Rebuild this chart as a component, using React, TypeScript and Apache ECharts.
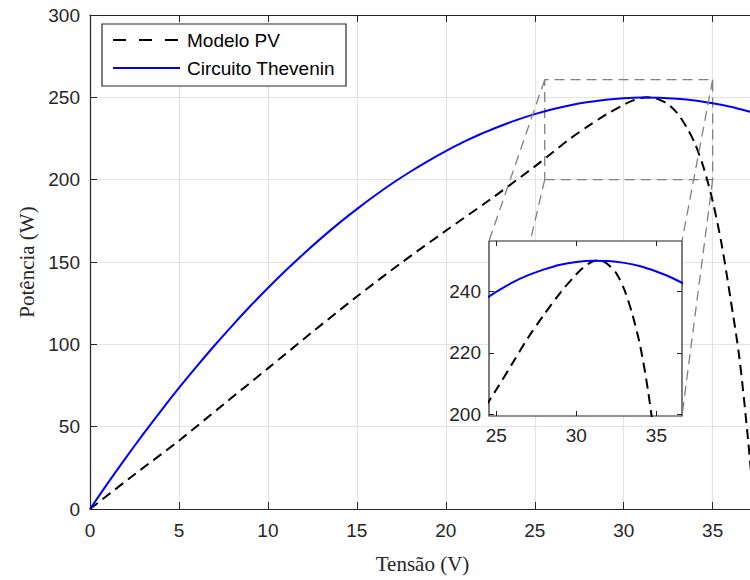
import React, { useEffect, useRef } from "react";
import * as echarts from "echarts";

// ---- data ----
const thevV = [0, 1, 2, 3, 4, 5, 6, 7, 8, 9, 10, 11, 12, 13, 14, 15, 16, 17, 18, 19, 20, 21, 22, 23, 24, 25, 26, 27, 28, 29, 30, 31, 32, 33, 34, 35, 36, 37, 37.4];
const thevP = [0, 15.7, 30.9, 45.6, 59.8, 73.5, 86.6, 99.3, 111.4, 123.1, 134.2, 144.8, 154.9, 164.5, 173.6, 182.1, 190.2, 197.8, 204.8, 211.3, 217.3, 222.9, 227.9, 232.3, 236.3, 239.8, 242.8, 245.2, 247.1, 248.6, 249.5, 249.9, 249.8, 249.2, 248.1, 246.4, 244.3, 241.6, 240.4];

const pvV = [0, 2.5, 5, 7.5, 10, 12.5, 15, 17.5, 20, 22.5, 25, 26, 27, 28, 29, 30, 30.5, 31, 31.3, 31.7, 32, 32.5, 33, 33.5, 34, 34.5, 35, 35.5, 36, 36.5, 37, 37.3];
const pvP = [0, 21, 41.5, 63.5, 85.4, 107.5, 129, 149.5, 169, 188, 208, 216.5, 225, 232.5, 239.5, 245.5, 248, 249.6, 250, 249.6, 248.6, 245.8, 240.5, 232.5, 222, 207, 187, 161, 128, 92, 41, 4];

const seriesNames = ["Modelo PV", "Circuito Thevenin"];
const xName = "Tensão (V)";
const yName = "Potência (W)";

// zoom box in main-axes data coordinates
const zoomBoxX = [25.56, 35];
const zoomBoxY = [200, 260.7];

// inset axes ranges & ticks
const insetX = [24.55, 36.6];
const insetY = [199.5, 256.3];
const insetXTicks = [25, 30, 35];
const insetYTicks = [200, 220, 240];

const mainXMax = 37.38;

const SANS = "Liberation Sans";
const SERIF = "Liberation Serif";
const AX = "#262626";
const GRID = "#e3e3e3";
const FS = 19;

function zip(a: number[], b: number[]) {
  return a.map((v, i) => [v, b[i]]);
}

export default function App() {
  const ref = useRef<HTMLDivElement>(null);
  useEffect(() => {
    if (!ref.current) return;
    const chart = echarts.init(ref.current, undefined, { renderer: "svg" });
    const pv = zip(pvV, pvP);
    const th = zip(thevV, thevP);
    const box = [
      [zoomBoxX[0], zoomBoxY[0]],
      [zoomBoxX[1], zoomBoxY[0]],
      [zoomBoxX[1], zoomBoxY[1]],
      [zoomBoxX[0], zoomBoxY[1]],
      [zoomBoxX[0], zoomBoxY[0]],
    ];
    const insetTick = {
      show: true,
      inside: true,
      length: 5,
      lineStyle: { color: AX },
    };
    chart.setOption({
      animation: false,
      backgroundColor: "#fff",
      grid: [
        { left: 90, top: 15, width: 665, height: 494, z: 0, outerBoundsMode: "none", containLabel: false },
        {
          left: 489,
          top: 241,
          width: 193,
          height: 175,
          show: true,
          backgroundColor: "#fff",
          borderColor: AX,
          borderWidth: 1.2,
          z: 1,
          outerBoundsMode: "none",
          containLabel: false,
        },
      ],
      xAxis: [
        {
          gridIndex: 0,
          type: "value",
          min: 0,
          max: mainXMax,
          interval: 5,
          position: "bottom",
          axisLine: { show: true, lineStyle: { color: AX, width: 1.2 } },
          axisTick: { show: true, inside: true, length: 7, lineStyle: { color: AX } },
          axisLabel: { fontFamily: SANS, fontSize: FS, color: AX, margin: 12, showMaxLabel: false },
          splitLine: { show: true, lineStyle: { color: GRID, width: 1.2 } },
          name: xName,
          nameLocation: "middle",
          nameGap: 44,
          nameTextStyle: { fontFamily: SERIF, fontSize: 21, color: AX },
        },
        {
          gridIndex: 0,
          type: "value",
          min: 0,
          max: mainXMax,
          interval: 5,
          position: "top",
          axisLine: { show: true, lineStyle: { color: AX, width: 1.2 } },
          axisTick: { show: true, inside: true, length: 7, lineStyle: { color: AX } },
          axisLabel: { show: false },
          splitLine: { show: false },
        },
        {
          gridIndex: 1,
          type: "value",
          min: insetX[0],
          max: insetX[1],
          position: "bottom",
          z: 3,
          axisLine: { show: false },
          axisTick: { ...insetTick, customValues: insetXTicks },
          axisLabel: { fontFamily: SANS, fontSize: FS, color: AX, margin: 10, customValues: insetXTicks },
          splitLine: { show: false },
        },
        {
          gridIndex: 1,
          type: "value",
          min: insetX[0],
          max: insetX[1],
          position: "top",
          z: 3,
          axisLine: { show: false },
          axisTick: { ...insetTick, customValues: insetXTicks },
          axisLabel: { show: false },
          splitLine: { show: false },
        },
      ],
      yAxis: [
        {
          gridIndex: 0,
          type: "value",
          min: 0,
          max: 300,
          interval: 50,
          axisLine: { show: true, lineStyle: { color: AX, width: 1.2 } },
          axisTick: { show: true, inside: true, length: 7, lineStyle: { color: AX } },
          axisLabel: { fontFamily: SANS, fontSize: FS, color: AX, margin: 10 },
          splitLine: { show: true, lineStyle: { color: GRID, width: 1.2 } },
          name: yName,
          nameLocation: "middle",
          nameGap: 51,
          nameTextStyle: { fontFamily: SERIF, fontSize: 21, color: AX },
        },
        {
          gridIndex: 1,
          type: "value",
          min: insetY[0],
          max: insetY[1],
          position: "left",
          z: 3,
          axisLine: { show: false },
          axisTick: { ...insetTick, customValues: insetYTicks },
          axisLabel: { fontFamily: SANS, fontSize: FS, color: AX, margin: 8, customValues: insetYTicks },
          splitLine: { show: false },
        },
        {
          gridIndex: 1,
          type: "value",
          min: insetY[0],
          max: insetY[1],
          position: "right",
          z: 3,
          axisLine: { show: false },
          axisTick: { ...insetTick, customValues: insetYTicks },
          axisLabel: { show: false },
          splitLine: { show: false },
        },
      ],
      series: [
        {
          name: seriesNames[0],
          type: "line",
          xAxisIndex: 0,
          yAxisIndex: 0,
          data: pv,
          showSymbol: false,
          smooth: 0.3,
          clip: true,
          lineStyle: { color: "#000", width: 2, type: [10, 6] },
          z: 3,
        },
        {
          name: seriesNames[1],
          type: "line",
          xAxisIndex: 0,
          yAxisIndex: 0,
          data: th,
          showSymbol: false,
          smooth: 0.3,
          clip: true,
          lineStyle: { color: "#0000ff", width: 2 },
          z: 3,
        },
        {
          type: "line",
          xAxisIndex: 0,
          yAxisIndex: 0,
          data: box,
          showSymbol: false,
          silent: true,
          lineStyle: { color: "#808080", width: 1.3, type: [10, 6] },
          z: 2,
        },
        {
          type: "line",
          xAxisIndex: 2,
          yAxisIndex: 1,
          data: pv,
          showSymbol: false,
          smooth: 0.3,
          clip: true,
          lineStyle: { color: "#000", width: 2, type: [10, 6] },
          z: 4,
        },
        {
          type: "line",
          xAxisIndex: 2,
          yAxisIndex: 1,
          data: th,
          showSymbol: false,
          smooth: 0.3,
          clip: true,
          lineStyle: { color: "#0000ff", width: 2 },
          z: 4,
        },
      ],
    });

    // connectors from zoom box to inset, computed via the axes
    const mainPx = (p: number[]) => chart.convertToPixel({ xAxisIndex: 0, yAxisIndex: 0 }, p) as number[];
    const insPx = (p: number[]) => chart.convertToPixel({ xAxisIndex: 2, yAxisIndex: 1 }, p) as number[];
    const iTL = insPx([insetX[0], insetY[1]]);
    const iBR = insPx([insetX[1], insetY[0]]);
    const rect = { x0: iTL[0], y0: iTL[1], x1: iBR[0], y1: iBR[1] };
    const pairs = [
      [mainPx([zoomBoxX[0], zoomBoxY[1]]), insPx([insetX[0], insetY[1]])],
      [mainPx([zoomBoxX[0], zoomBoxY[0]]), insPx([insetX[0], insetY[0]])],
      [mainPx([zoomBoxX[1], zoomBoxY[1]]), insPx([insetX[1], insetY[1]])],
      [mainPx([zoomBoxX[1], zoomBoxY[0]]), insPx([insetX[1], insetY[0]])],
    ];
    const clip = (P: number[], Q: number[]) => {
      let best = 1;
      const dx = Q[0] - P[0];
      const dy = Q[1] - P[1];
      const eps = 1e-4;
      const tryT = (t: number, onEdge: (x: number, y: number) => boolean) => {
        if (t > eps && t < 1 - eps) {
          const x = P[0] + t * dx;
          const y = P[1] + t * dy;
          if (onEdge(x, y) && t < best) best = t;
        }
      };
      if (dy !== 0) {
        tryT((rect.y0 - P[1]) / dy, (x) => x >= rect.x0 && x <= rect.x1);
        tryT((rect.y1 - P[1]) / dy, (x) => x >= rect.x0 && x <= rect.x1);
      }
      if (dx !== 0) {
        tryT((rect.x0 - P[0]) / dx, (_x, y) => y >= rect.y0 && y <= rect.y1);
        tryT((rect.x1 - P[0]) / dx, (_x, y) => y >= rect.y0 && y <= rect.y1);
      }
      return [P[0] + best * dx, P[1] + best * dy];
    };
    const graphics: any[] = pairs.map(([P, Q]) => {
      const E = clip(P, Q);
      return {
        type: "line",
        z: 10,
        silent: true,
        shape: { x1: P[0], y1: P[1], x2: E[0], y2: E[1] },
        style: { stroke: "#808080", lineWidth: 1.3, lineDash: [10, 6] },
      };
    });

    // legend box
    graphics.push({
      type: "rect",
      z: 20,
      shape: { x: 102, y: 24, width: 244, height: 62 },
      style: { fill: "#fff", stroke: AX, lineWidth: 1.2 },
    });
    graphics.push({
      type: "line",
      z: 21,
      shape: { x1: 113, y1: 40, x2: 180, y2: 40 },
      style: { stroke: "#000", lineWidth: 2, lineDash: [13, 13] },
    });
    graphics.push({
      type: "line",
      z: 21,
      shape: { x1: 113, y1: 68, x2: 180, y2: 68 },
      style: { stroke: "#0000ff", lineWidth: 2 },
    });
    graphics.push({
      type: "text",
      z: 21,
      x: 187,
      y: 40,
      style: { text: seriesNames[0], fontFamily: SANS, fontSize: FS, fill: "#000", verticalAlign: "middle" },
    });
    graphics.push({
      type: "text",
      z: 21,
      x: 187,
      y: 68,
      style: { text: seriesNames[1], fontFamily: SANS, fontSize: FS, fill: "#000", verticalAlign: "middle" },
    });
    chart.setOption({ graphic: graphics });

    return () => chart.dispose();
  }, []);
  return (
    <div
      ref={ref}
      style={{ position: "absolute", left: 0, top: 0, width: 750, height: 580 }}
    />
  );
}
